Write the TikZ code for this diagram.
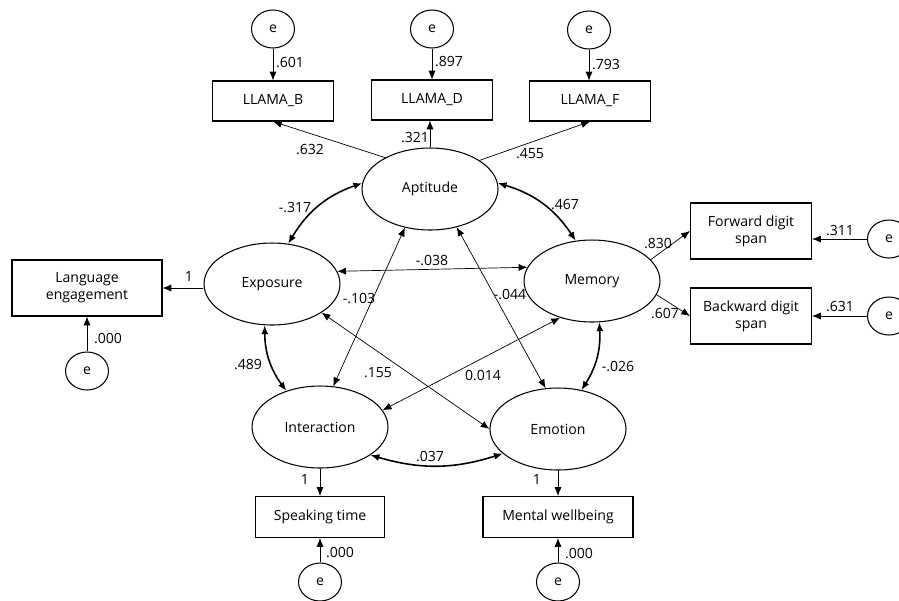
\documentclass[tikz,border=0pt]{standalone}
\usepackage{fontspec}
\setmainfont{Open Sans}
\usetikzlibrary{shapes.geometric,arrows.meta}

\tikzset{
  latent/.style={draw, ellipse, line width=0.6pt, minimum width=2.72cm, minimum height=1.64cm, inner sep=0pt},
  errvar/.style={draw, ellipse, line width=0.6pt, minimum width=0.86cm, minimum height=0.76cm, inner sep=0pt},
  obsbox/.style={draw, rectangle, line width=0.6pt, minimum width=2.42cm, minimum height=0.8cm, align=center, inner sep=1pt},
  load/.style={->, line width=0.4pt},
  covar/.style={<->, line width=0.9pt},
  corr/.style={<->, line width=0.4pt},
  coef/.style={inner sep=0pt}
}

\begin{document}
\begin{tikzpicture}[x=0.02cm, y=-0.02cm, >={Latex[length=5pt,width=4pt]}, font=\fontsize{8}{9.5}\selectfont]
            \useasboundingbox (0,0) rectangle (899,600);

            % latent factors
            \node[latent] (apt) at (430,189) {Aptitude};
            \node[latent] (exp) at (272,284) {Exposure};
            \node[latent] (mem) at (592,281) {Memory};
            \node[latent] (int) at (320,427) {Interaction};
            \node[latent] (emo) at (558,429) {Emotion};

            % observed measures
            \node[obsbox] (llb) at (273,101) {LLAMA\_B};
            \node[obsbox] (lld) at (432,100) {LLAMA\_D};
            \node[obsbox] (llf) at (590,101) {LLAMA\_F};
            \node[obsbox, minimum width=3cm, minimum height=1.12cm] (lang) at (87,288) {Language\\engagement};
            \node[obsbox, minimum height=1.12cm] (fwd) at (751,231) {Forward digit\\span};
            \node[obsbox, minimum height=1.12cm] (bwd) at (751,316) {Backward digit\\span};
            \node[obsbox, minimum width=2.58cm, minimum height=0.82cm] (spk) at (320,517) {Speaking time};
            \node[obsbox, minimum width=3cm, minimum height=0.82cm] (wel) at (558,517) {Mental wellbeing};

            % error terms
            \foreach \n/\pos in {eb/{273,29}, ed/{432,29}, ef/{589,30}, el/{87,371},
                                 efw/{889,239}, ebw/{889,316}, esp/{320,582}, ewe/{558,582}} {
                \node[errvar] (\n) at (\pos) {e};
            }
            \draw[load] (eb) -- (eb |- llb.north);
            \draw[load] (ed) -- (ed |- lld.north);
            \draw[load] (ef) -- (ef |- llf.north);
            \draw[load] (el) -- (el |- lang.south);
            \draw[load] (efw) -- (efw -| fwd.east);
            \draw[load] (ebw) -- (ebw -| bwd.east);
            \draw[load] (esp) -- (esp |- spk.south);
            \draw[load] (ewe) -- (ewe |- wel.south);

            % loadings
            \draw[load] (apt.145) -- (llb.south);
            \draw[load] (apt.north) -- (apt.north |- lld.south);
            \draw[load] (apt.30) -- (llf.south);
            \draw[load] (exp.west |- lang) -- (lang.east);
            \draw[load] (mem.20) -- (fwd.west);
            \draw[load] (mem.-12) -- (bwd.west);
            \draw[load] (int) -- (spk);
            \draw[load] (emo) -- (wel);

            % covariances
            \draw[covar] (apt.175) to[bend right=20] (exp.68);
            \draw[covar] (apt.5) to[bend left=20] (mem.112);
            \draw[covar] (exp.-100) to[bend right=18] (int.133);
            \draw[covar] (mem.-80) to[bend left=18] (emo.59);
            \draw[covar] (int.-29) to[bend right=17] (emo.204);

            \draw[corr] (exp.11) -- (mem.168);
            \draw[corr] (apt.237) -- (int.72);
            \draw[corr] (apt.-55) -- (emo.107);
            \draw[corr] (exp.-30) -- (emo.west);
            \draw[corr] (mem.229) -- (int.15);

            % estimates
            \foreach \x/\y/\w [count=\i] in {
                290/62/.601, 449/62/.897, 606/65/.793,
                310/149/.632, 415/137/.321, 530/154/.455,
                295/207/-.317, 189/276/1, 108/338/.000,
                432/260/-.038, 359/298/-.103, 248/364/.489,
                378/373/.155, 565/204/.467, 658/243/.830,
                840/230/.311, 510/294/-.044, 665/313/.607,
                840/306/.631, 483/375/0.014, 618/366/-.026,
                430/456/.037, 305/479/1, 537/479/1,
                340/552/.000, 579/553/.000
            } {
                \node[coef] (c\i) at (\x,\y) {\w};
            }
        \end{tikzpicture}
\end{document}
